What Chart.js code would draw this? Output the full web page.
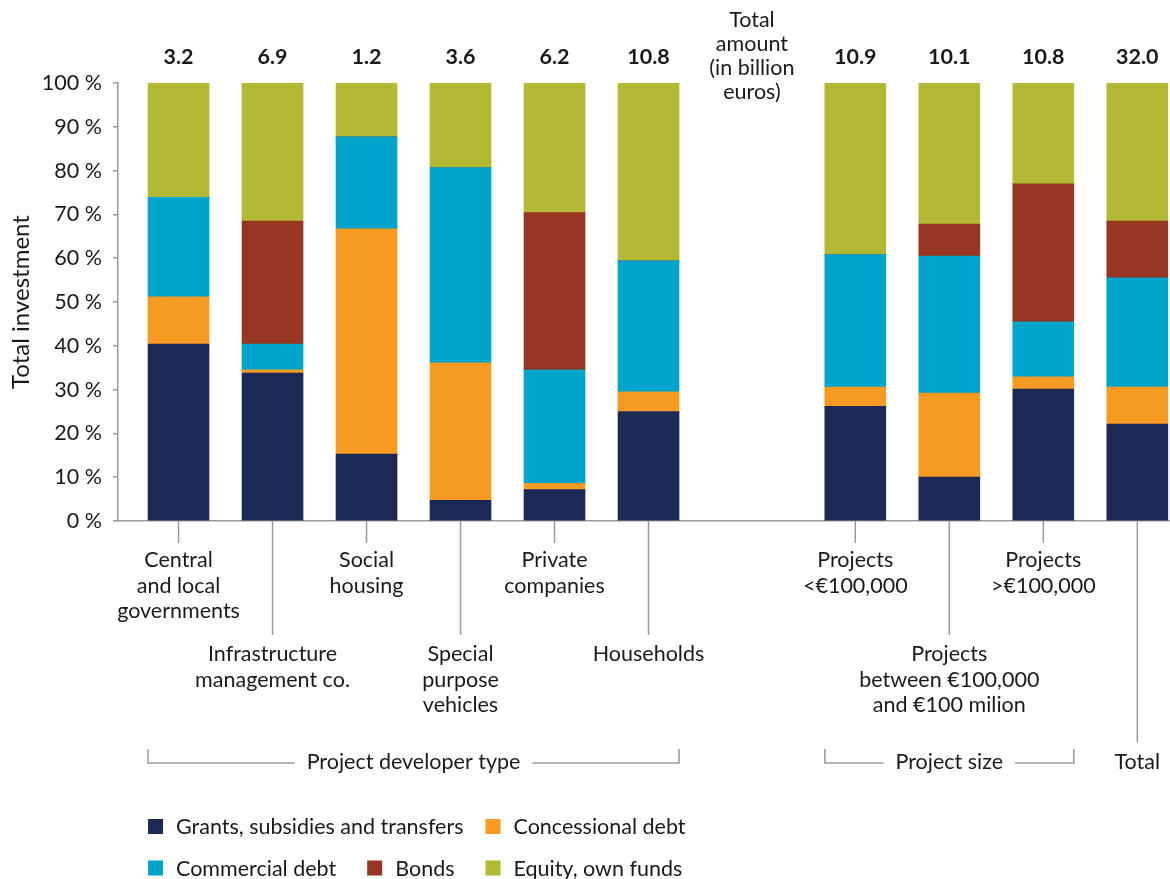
<!DOCTYPE html>
<html><head><meta charset="utf-8">
<script src="https://cdn.jsdelivr.net/npm/chart.js@4"></script>
<style>html,body{margin:0;padding:0;background:#fff;}#wrap{width:1170px;height:879px;position:relative;}</style>
</head><body><div id="wrap"><canvas id="c" width="1170" height="879"></canvas></div>
<script>
// ---- data ----
const categories = ["Central and local governments","Infrastructure management co.","Social housing","Special purpose vehicles","Private companies","Households","Projects <€100,000","Projects between €100,000 and €100 milion","Projects >€100,000","Total"];
const categoryLines = [["Central","and local","governments"],["Infrastructure","management co."],["Social","housing"],["Special","purpose","vehicles"],["Private","companies"],["Households"],["Projects","<€100,000"],["Projects","between €100,000","and €100 milion"],["Projects",">€100,000"],[]];
const labelLevel = [0,1,0,1,0,1,0,1,0,2];
const totals = [3.2, 6.9, 1.2, 3.6, 6.2, 10.8, 10.9, 10.1, 10.8, 32.0];
const grants       = [40.4, 33.8, 15.3, 4.7, 7.2, 25.0, 26.2, 10.0, 30.1, 22.1];
const concessional = [10.8, 0.7, 51.4, 31.4, 1.4, 4.5, 4.4, 19.2, 2.8, 8.5];
const commercial   = [22.7, 5.9, 21.0, 44.6, 25.9, 29.9, 30.2, 31.3, 12.6, 24.9];
const bonds        = [0, 28.1, 0, 0, 35.9, 0, 0, 7.3, 31.5, 13.0];
const equity       = [26.1, 31.5, 12.3, 19.3, 29.6, 40.6, 39.2, 32.2, 23.0, 31.5];
const seriesNames = ["Grants, subsidies and transfers","Concessional debt","Commercial debt","Bonds","Equity, own funds"];
const seriesColors = ["#1c2955","#f79a22","#00a3c9","#963521","#b3b835"];
const groups = [{label:"Project developer type",from:0,to:5},{label:"Project size",from:6,to:8},{label:"Total",from:9,to:9}];
const gapTitle = ["Total","amount","(in billion","euros)"];
const yTitle = "Total investment";
const legendRows = [[0,1],[2,3,4]];

// ---- layout helpers ----
const groupBreak = 6, groupGap = 1.2;
const xPos = categories.map((c,i)=> i + (i>=groupBreak ? groupGap : 0));
const pts = arr => arr.map((v,i)=>({x:xPos[i], y:v}));
const FONT = "Lato, 'Open Sans', sans-serif";
const FS = 21.5;
const TXT = "#1a1a1a", LINE = "#9a9a9a";

const annot = {
  id:'annot',
  afterDraw(chart){
    const ctx = chart.ctx, xs = chart.scales.x, a = chart.chartArea;
    const meta = chart.getDatasetMeta(0);
    const bx = i => meta.data[i].x, bw = i => meta.data[i].width;
    ctx.save();
    ctx.fillStyle = TXT; ctx.textAlign='center'; ctx.textBaseline='alphabetic';
    // y title
    ctx.save();
    ctx.font = "24px " + FONT;
    ctx.translate(28.5, (a.top + a.bottom)/2); ctx.rotate(-Math.PI/2);
    ctx.fillText(yTitle, 0, 0);
    ctx.restore();
    // totals
    ctx.font = "bold " + FS + "px " + FONT;
    totals.forEach((t,i)=> ctx.fillText(t.toFixed(1), bx(i), 63.5));
    // gap title
    ctx.font = FS + "px " + FONT;
    const gx = xs.getPixelForValue((xPos[groupBreak-1]+xPos[groupBreak])/2);
    gapTitle.forEach((s,k)=> ctx.fillText(s, gx, 27 + k*24));
    // leader lines + labels
    ctx.strokeStyle = LINE; ctx.lineWidth = 1.5;
    const leadEnd = [22, 114, 221];
    const firstBase = [46, 140, 248];
    categoryLines.forEach((lines,i)=>{
      const x = bx(i), lv = labelLevel[i];
      ctx.beginPath(); ctx.moveTo(x, a.bottom); ctx.lineTo(x, a.bottom + leadEnd[lv]); ctx.stroke();
      lines.forEach((s,k)=> ctx.fillText(s, x, a.bottom + firstBase[lv] + k*25.7));
    });
    // groups
    const gy = a.bottom + 242, gtop = a.bottom + 228;
    groups.forEach(g=>{
      const l = bx(g.from) - bw(g.from)/2, r = bx(g.to) + bw(g.to)/2, cx = (l+r)/2;
      ctx.fillText(g.label, cx, a.bottom + 248);
      if (g.to > g.from){
        const tw = ctx.measureText(g.label).width/2 + 12;
        ctx.beginPath();
        ctx.moveTo(l, gtop); ctx.lineTo(l, gy); ctx.lineTo(cx - tw, gy);
        ctx.moveTo(cx + tw, gy); ctx.lineTo(r, gy); ctx.lineTo(r, gtop);
        ctx.stroke();
      }
    });
    // legend: first row flows; later rows end on the previous row's last column, gaps spread evenly
    ctx.textAlign='left';
    const lx0 = bx(0) - bw(0)/2, rowY = [826.5, 868], sq = 15, tOff = 28, gap = 22;
    const iw = si => tOff + ctx.measureText(seriesNames[si]).width;
    let lastStop = null;
    legendRows.forEach((row,ri)=>{
      const xsRow = [];
      if (ri === 0 || row.length < 2) {
        let x = lx0; row.forEach(si=>{ xsRow.push(x); x += iw(si) + gap; });
      } else {
        const lastX = lastStop;
        const used = row.slice(0,-1).reduce((s,si)=> s + iw(si), 0);
        const g = (lastX - lx0 - used) / (row.length - 1);
        let x = lx0; row.forEach((si,k)=>{ xsRow.push(k===row.length-1 ? lastX : x); x += iw(si) + g; });
      }
      row.forEach((si,k)=>{
        const x = xsRow[k];
        ctx.fillStyle = seriesColors[si];
        ctx.fillRect(x, rowY[ri]-sq/2, sq, sq);
        ctx.fillStyle = TXT;
        ctx.fillText(seriesNames[si], x + tOff, rowY[ri] + 7.5);
      });
      lastStop = xsRow[xsRow.length-1];
    });
    ctx.restore();
  }
};

const datasets = [grants, concessional, commercial, bonds, equity].map((arr,k)=>({
  label: seriesNames[k], data: pts(arr), backgroundColor: seriesColors[k], borderWidth:0, barThickness:61
}));

new Chart(document.getElementById('c'), {
  type:'bar',
  data:{datasets},
  options:{
    responsive:false, animation:false,
    layout:{padding:{top:83,left:0,right:0,bottom:0}},
    plugins:{legend:{display:false}, tooltip:{enabled:false}},
    scales:{
      x:{type:'linear', stacked:true, offset:false, min:-0.644, max:10.548,
         ticks:{display:false}, grid:{display:false},
         border:{display:true,color:LINE,width:1.5},
         afterFit(s){ s.height = 358; }},
      y:{stacked:true, min:0, max:100,
         ticks:{stepSize:10, padding:11, color:TXT, font:{family:FONT,size:FS}, callback:v=> v + ' %'},
         grid:{drawOnChartArea:false, drawTicks:true, tickLength:5, color:LINE, lineWidth:1.5},
         border:{display:true,color:LINE,width:1.5},
         afterFit(s){ s.width = 118; }}
    }
  },
  plugins:[annot]
});
</script></body></html>
